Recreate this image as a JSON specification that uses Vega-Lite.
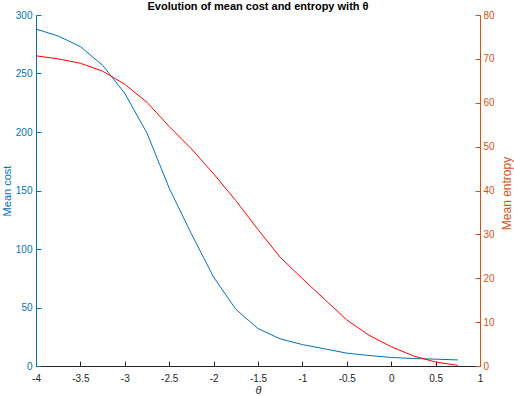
{
  "$schema": "https://vega.github.io/schema/vega-lite/v6.json",
  "width": 444,
  "height": 351,
  "autosize": {"type": "none"},
  "padding": {"left": 36, "top": 15, "right": 34, "bottom": 30},
  "background": "white",
  "config": {
    "view": {"stroke": null},
    "font": "Liberation Sans",
    "axis": {"grid": false, "labelFontSize": 10, "titleFontSize": 11, "titleFontWeight": "normal", "labelFont": "Liberation Sans", "titleFont": "Liberation Sans", "domainWidth": 1, "tickWidth": 1}
  },
  "title": {"text": "Evolution of mean cost and entropy with θ", "fontSize": 11, "fontWeight": "bold", "color": "#000000", "offset": -2, "font": "Liberation Sans"},
  "data": {"values": [
    {"theta": -4.0, "cost": 288, "entropy": 70.7},
    {"theta": -3.75, "cost": 282, "entropy": 70.0},
    {"theta": -3.5, "cost": 273, "entropy": 69.0},
    {"theta": -3.25, "cost": 257, "entropy": 67.2},
    {"theta": -3.0, "cost": 233, "entropy": 64.2},
    {"theta": -2.75, "cost": 199, "entropy": 60.1},
    {"theta": -2.5, "cost": 152, "entropy": 54.6},
    {"theta": -2.25, "cost": 113, "entropy": 49.5},
    {"theta": -2.0, "cost": 76, "entropy": 43.8},
    {"theta": -1.75, "cost": 48.5, "entropy": 37.7},
    {"theta": -1.5, "cost": 32, "entropy": 31.1},
    {"theta": -1.25, "cost": 23.2, "entropy": 24.8},
    {"theta": -1.0, "cost": 18.3, "entropy": 19.9},
    {"theta": -0.75, "cost": 14.7, "entropy": 15.2},
    {"theta": -0.5, "cost": 11, "entropy": 10.5},
    {"theta": -0.25, "cost": 9, "entropy": 7.0},
    {"theta": 0.0, "cost": 7.3, "entropy": 4.4},
    {"theta": 0.25, "cost": 6.4, "entropy": 2.3},
    {"theta": 0.5, "cost": 5.8, "entropy": 0.9},
    {"theta": 0.75, "cost": 5.2, "entropy": 0.15}
  ]},
  "encoding": {
    "x": {
      "field": "theta", "type": "quantitative",
      "scale": {"domain": [-4, 1], "nice": false, "zero": false},
      "axis": {"title": "θ", "titleFontStyle": "italic", "titleColor": "#262626", "titleX": 222, "titleY": 27, "titleBaseline": "alphabetic", "titleAlign": "center", "titleAnchor": null, "values": [-4, -3.5, -3, -2.5, -2, -1.5, -1, -0.5, 0, 0.5, 1], "labelExpr": "'' + datum.value", "domainColor": "#262626", "tickColor": "#262626", "labelColor": "#262626", "tickSize": -5, "labelPadding": 12, "labelFlush": false, "labelOverlap": false}
    }
  },
  "layer": [
    {
      "mark": {"type": "line", "color": "#0072BD", "strokeWidth": 1},
      "encoding": {
        "y": {
          "field": "cost", "type": "quantitative",
          "scale": {"domain": [0, 300], "nice": false},
          "axis": {"orient": "left", "title": "Mean cost", "titleColor": "#0072BD", "labelColor": "#0072BD", "domainColor": "#0072BD", "tickColor": "#0072BD", "values": [0, 50, 100, 150, 200, 250, 300], "tickSize": -5, "labelPadding": 9, "titleX": -26, "titleY": 175.5, "titleAngle": -90, "titleBaseline": "alphabetic", "titleAlign": "center", "titleAnchor": null, "labelFlush": false, "labelOverlap": false}
        }
      }
    },
    {
      "mark": {"type": "line", "color": "#FF0000", "strokeWidth": 1},
      "encoding": {
        "y": {
          "field": "entropy", "type": "quantitative",
          "scale": {"domain": [0, 80], "nice": false},
          "axis": {"orient": "right", "title": "Mean entropy", "titleAngle": -90, "titleColor": "#D95319", "labelColor": "#D95319", "domainColor": "#D95319", "tickColor": "#D95319", "values": [0, 10, 20, 30, 40, 50, 60, 70, 80], "tickSize": -5, "labelPadding": 8, "titleX": 30.5, "titleY": 178, "titleBaseline": "alphabetic", "titleAlign": "center", "titleAnchor": null, "titleFontSize": 12, "labelFlush": false, "labelOverlap": false}
        }
      }
    }
  ],
  "resolve": {"scale": {"y": "independent"}}
}
